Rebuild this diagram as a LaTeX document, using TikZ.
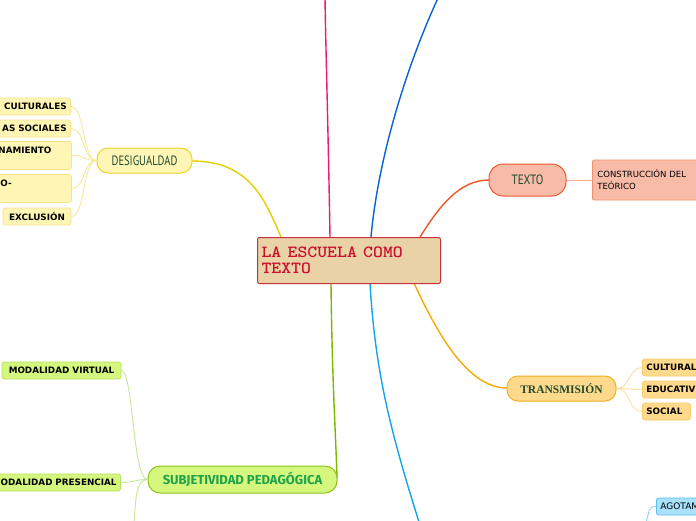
\documentclass[tikz,border=0pt]{standalone}
\usepackage{fontspec}
\newfontfamily\dvs{DejaVu Sans}
\newfontfamily\lserif{Liberation Serif}
\newfontfamily\fira{Fira Sans}
\newfontfamily\ptsans{PT Sans}
\definecolor{cfill}{HTML}{E8D2A6}
\definecolor{cborder}{HTML}{C8323C}
\definecolor{cred}{HTML}{C8102E}
\definecolor{pinkl}{HTML}{EC1A73}
\definecolor{bluel}{HTML}{0A62D2}
\definecolor{redl}{HTML}{F05528}
\definecolor{goldl}{HTML}{E6CE00}
\definecolor{greenl}{HTML}{7BB800}
\definecolor{cyanl}{HTML}{12A5EC}
\definecolor{orangel}{HTML}{F6AC00}
\definecolor{darkg}{HTML}{1E4A2E}
\definecolor{yfill}{HTML}{FFF6B6}
\definecolor{yborder}{HTML}{EBD32A}
\definecolor{yleafb}{HTML}{F6E38C}
\definecolor{yline}{HTML}{F6EA9A}
\definecolor{sfill}{HTML}{F8BBA8}
\definecolor{sborder}{HTML}{EE5A30}
\definecolor{sleafb}{HTML}{F3906E}
\definecolor{sline}{HTML}{F6A890}
\definecolor{ofill}{HTML}{FFDA8C}
\definecolor{oborder}{HTML}{F5AE1E}
\definecolor{oleafb}{HTML}{F8CC6A}
\definecolor{oline}{HTML}{FDE0A2}
\definecolor{gfill}{HTML}{D5F77D}
\definecolor{gborder}{HTML}{8DC21F}
\definecolor{gleafb}{HTML}{B8E064}
\definecolor{gline}{HTML}{C6E79A}
\definecolor{gtext}{HTML}{1FA34A}
\definecolor{bfill}{HTML}{A9E2FA}
\definecolor{bborder}{HTML}{5ABFF0}
\definecolor{bline}{HTML}{8FD3F5}
\begin{document}
\begin{tikzpicture}[x=1pt,y=-1pt,
  hub/.style={draw, line width=1pt, inner sep=0pt},
  leaf/.style={draw, line width=0.8pt, rounded corners=2.5pt, inner xsep=4pt, inner ysep=2pt,
    minimum height=17pt, font=\dvs\bfseries\fontsize{8.8}{11}\selectfont, text=black},
  yleaf/.style={leaf, fill=yfill, draw=yleafb},
  oleaf/.style={leaf, fill=ofill, draw=oleafb},
  gleaf/.style={leaf, fill=gfill, draw=gleafb},
  mainline/.style={line width=1.4pt},
  subline/.style={line width=0.9pt}
]
\useasboundingbox (0,0) rectangle (696,520);
\clip (0,0) rectangle (696,520);
\fill[white] (0,0) rectangle (696,520);

% free ends and border points
\coordinate (cp) at (330,237);
\coordinate (cb) at (371,237);
\coordinate (cr) at (420,237);
\coordinate (cy) at (281,237);
\coordinate (cg) at (331,283);
\coordinate (cc) at (370,283);
\coordinate (co) at (414,283);
\coordinate (pinkend) at (325,-2);
\coordinate (blueend) at (438,-2);
\coordinate (cyanend) at (419,522);
\coordinate (sdown) at (134,522);
\coordinate (aend) at (646,522);

% main connectors
\draw[mainline, pinkl] (cp) .. controls (328,120) and (326,60) .. (pinkend);
\draw[mainline, bluel] (cb) .. controls (378,160) and (405,70) .. (blueend);
\draw[mainline, redl] (cr) .. controls (440,205) and (460,180) .. (489,180);
\draw[mainline, goldl] (cy) .. controls (265,200) and (250,161) .. (192,161);
\draw[mainline, greenl] (cg) .. controls (332,380) and (336,440) .. (337,478);
\draw[mainline, cyanl] (cc) .. controls (375,370) and (390,430) .. (cyanend);
\draw[mainline, orangel] (co) .. controls (440,340) and (470,388) .. (507,388);

% central node
\node[draw=cborder, fill=cfill, line width=1pt, rounded corners=1.5pt, anchor=north west,
  minimum height=46pt, text width=175pt, align=left, inner xsep=4pt,
  font=\ttfamily\bfseries\fontsize{17}{16.5}\selectfont, text=cred] (c) at (257,237)
  {\scalebox{1.11}[1]{LA ESCUELA COMO}\\\scalebox{1.11}[1]{TEXTO}};

% DESIGUALDAD
\node[hub, fill=yfill, draw=yborder, rounded corners=11pt, minimum width=95pt, minimum height=25pt,
  font=\ptsans\fontsize{13.5}{13.5}\selectfont, text=darkg] (des) at (144.5,160.5)
  {\scalebox{0.78}[1]{DESIGUALDAD}};
\node[yleaf, anchor=east, text width=80pt, align=right] (d1) at (71,106.5) {CULTURALES};
\node[yleaf, anchor=east, text width=80pt, align=right] (d2) at (71,128.5) {AS SOCIALES};
\node[yleaf, anchor=north west, text width=69pt, align=left, minimum height=28pt] (d3) at (-6,141) {NAMIENTO\\\mbox{}};
\node[yleaf, anchor=north west, text width=67pt, align=left, minimum height=28pt] (d4) at (-4,174) {O-\\\mbox{}};
\node[yleaf, minimum width=68pt] (d5) at (37,216.5) {EXCLUSIÓN};
\foreach \n in {d1,d2,d3,d4,d5}
  \draw[subline, yline] (des.west) .. controls +(-14,0) and +(14,0) .. (\n.east);

% TEXTO
\node[hub, fill=sfill, draw=sborder, rounded corners=14pt, minimum width=77pt, minimum height=32pt,
  font=\ptsans\fontsize{13.5}{13.5}\selectfont, text=darkg] (tex) at (527.5,180)
  {\scalebox{0.82}[1]{TEXTO}};
\node[draw=sleafb, fill=sfill, line width=0.8pt, rounded corners=2pt, anchor=west, text width=110pt,
  align=left, minimum height=40pt, inner xsep=5pt, font=\dvs\fontsize{8.5}{12}\selectfont, text=black]
  (k1) at (592,180) {CONSTRUCCIÓN DEL\\TEÓRICO};
\draw[subline, sline] (tex.east) -- (k1.west);

% TRANSMISION
\node[hub, fill=ofill, draw=oborder, rounded corners=11pt, minimum width=109pt, minimum height=25pt,
  font=\lserif\bfseries\fontsize{11.5}{12}\selectfont, text=darkg] (tra) at (561.5,388.5) {TRANSMISIÓN};
\node[oleaf, anchor=west, text width=60pt, align=left] (t1) at (642,367.5) {CULTURAL};
\node[oleaf, anchor=west, text width=60pt, align=left] (t2) at (642,389.5) {EDUCATIV};
\node[oleaf, anchor=west, text width=40pt, align=left] (t3) at (642,411.5) {SOCIAL};
\foreach \n in {t1,t2,t3}
  \draw[subline, oline] (tra.east) .. controls +(14,0) and +(-14,0) .. (\n.west);

% SUBJETIVIDAD
\node[hub, fill=gfill, draw=gborder, rounded corners=12pt, minimum width=189pt, minimum height=27pt,
  font=\fira\bfseries\fontsize{13}{13}\selectfont, text=gtext] (sub) at (242.5,479.5) {SUBJETIVIDAD PEDAGÓGICA};
\node[gleaf, minimum width=119pt] (s1) at (61.5,370.5) {MODALIDAD VIRTUAL};
\node[gleaf, anchor=east, text width=140pt, align=right] (s2) at (121,482.5) {ODALIDAD PRESENCIAL};
\draw[subline, gline] (sub.west) .. controls +(-15,0) and +(12,0) .. (s1.east);
\draw[subline, gline] (sub.west) .. controls +(-12,0) and +(12,0) .. (s2.east);
\draw[subline, gline] (sub.west) .. controls +(-12,0) and (136,500) .. (sdown);

% AGOTAM
\node[leaf, fill=bfill, draw=bborder, anchor=west, text width=50pt, align=left,
  font=\dvs\fontsize{9}{11}\selectfont] (a1) at (656,506.5) {AGOTAM};
\draw[subline, bline] (a1.west) .. controls +(-8,0) and (650,510) .. (aend);
\end{tikzpicture}
\end{document}
